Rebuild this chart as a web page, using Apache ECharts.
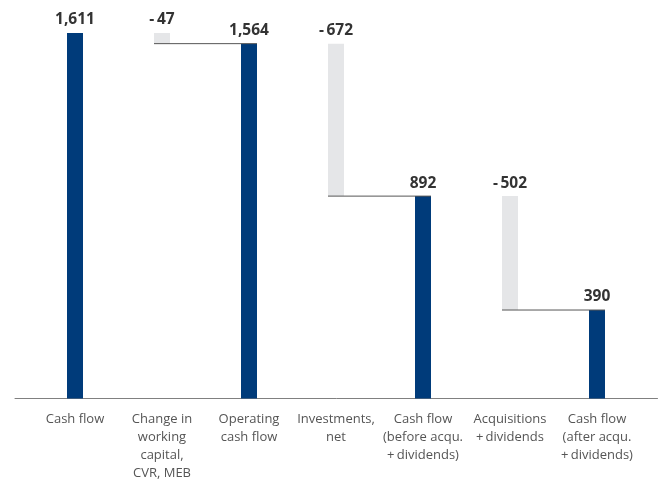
<!DOCTYPE html>
<html>
<head>
<meta charset="utf-8">
<script src="https://cdn.jsdelivr.net/npm/echarts@6/dist/echarts.min.js"></script>
<style>html,body{margin:0;padding:0;background:#fff}#c{width:659px;height:480px}</style>
</head>
<body>
<div id="c"></div>
<script>
const categories = ["Cash flow", "Change in\nworking\ncapital,\nCVR, MEB", "Operating\ncash flow", "Investments,\nnet", "Cash flow\n(before acqu.\n+\u2009dividends)", "Acquisitions\n+\u2009dividends", "Cash flow\n(after acqu.\n+\u2009dividends)"];
const values = [1611, -47, 1564, -672, 892, -502, 390];
const isTotal = [true, false, true, false, true, false, true];

const BLUE = '#003b7a', GRAY = '#e5e6e8', BW = 16;
// derive floating bases
const baseData = [], heightData = [], connectors = [];
let running = 0;
values.forEach((v, i) => {
  if (isTotal[i]) { baseData.push(0); heightData.push({value: v, itemStyle: {color: BLUE}}); running = v; }
  else { const low = running + v; baseData.push(low); heightData.push({value: -v, itemStyle: {color: GRAY}}); running = low; connectors.push([i, i + 1, low]); }
});
function fmt(v) { const s = Math.abs(v).toLocaleString('en-US'); return v < 0 ? '-\u2009' + s : s; }

const chart = echarts.init(document.getElementById('c'));
chart.setOption({
  animation: false,
  textStyle: {fontFamily: 'Open Sans'},
  grid: [
    {left: 31.5, right: 18.5, top: 12.8, bottom: 81.5, containLabel: false, outerBoundsMode: 'none'},
    {left: 15, right: 1.5, top: 12.8, bottom: 81.5, containLabel: false, outerBoundsMode: 'none'}
  ],
  xAxis: [
    {type: 'category', data: categories, gridIndex: 0,
     axisLine: {show: false}, axisTick: {show: false},
     axisLabel: {interval: 0, color: '#555', fontSize: 13, lineHeight: 18, margin: 12, fontFamily: 'Open Sans'}},
    {type: 'value', gridIndex: 1, min: 0, max: 1, axisLine: {show: true, lineStyle: {color: '#808080', width: 1}},
     axisTick: {show: false}, axisLabel: {show: false}, splitLine: {show: false}}
  ],
  yAxis: [
    {type: 'value', gridIndex: 0, min: 0, max: 1700, show: false, splitLine: {show: false}},
    {type: 'value', gridIndex: 1, min: 0, max: 1, show: false}
  ],
  series: [
    {type: 'bar', stack: 'w', data: baseData, barWidth: BW, itemStyle: {color: 'transparent'}, silent: true},
    {type: 'bar', stack: 'w', data: heightData, barWidth: BW,
     label: {show: true, position: 'top', distance: 5, color: '#333', fontWeight: 'bold', fontSize: 15.5, fontFamily: 'Open Sans',
       formatter: p => fmt(values[p.dataIndex])}},
    {type: 'custom', data: connectors, z: 5,
     renderItem: (params, api) => {
       const a = api.coord([api.value(0), api.value(2)]);
       const b = api.coord([api.value(1), api.value(2)]);
       return {type: 'line', shape: {x1: a[0] - BW / 2, y1: a[1], x2: b[0] + BW / 2, y2: b[1]},
               style: {stroke: '#555', lineWidth: 1}};
     }},
    {type: 'line', xAxisIndex: 1, yAxisIndex: 1, data: [], silent: true}
  ]
});
</script>
</body>
</html>
